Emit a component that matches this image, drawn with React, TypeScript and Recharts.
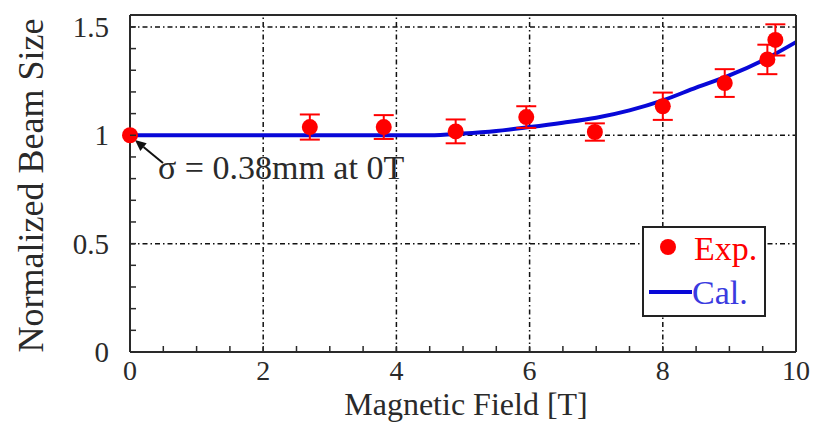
import {
  ComposedChart,
  ErrorBar,
  Legend,
  Line,
  ReferenceLine,
  Scatter,
  XAxis,
  YAxis,
} from "recharts";

// measured points
const expField = [0, 2.7, 3.81, 4.89, 5.95, 6.98, 8.0, 8.93, 9.57, 9.69];
const expSize = [1, 1.038, 1.038, 1.018, 1.084, 1.015, 1.134, 1.241, 1.35, 1.44];
const expErr = [0, 0.058, 0.055, 0.055, 0.05, 0.04, 0.063, 0.064, 0.068, 0.072];

// calculation
const calField = [0, 1, 2, 3, 4, 4.5, 5, 5.5, 6, 6.5, 7, 7.5, 8, 8.5, 9, 9.5, 10];
const calSize = [1, 1, 1, 1, 1, 1, 1.008, 1.02, 1.038, 1.058, 1.081, 1.115, 1.161, 1.22, 1.276, 1.345, 1.43];

const xTicks = [0, 0.5, 1, 1.5, 2, 2.5, 3, 3.5, 4, 4.5, 5, 5.5, 6, 6.5, 7, 7.5, 8, 8.5, 9, 9.5, 10];
const xLabelTicks = [0, 2, 4, 6, 8, 10];
const yTicks = [0, 0.1, 0.2, 0.3, 0.4, 0.5, 0.6, 0.7, 0.8, 0.9, 1, 1.1, 1.2, 1.3, 1.4, 1.5];
const yLabelTicks = [0, 0.5, 1, 1.5];
const xGrid = [2, 4, 6, 8];
const yGrid = [0.5, 1, 1.5];

const arrowFrom = { x: 0.495, y: 0.872 };
const arrowTo = { x: 0.075, y: 0.978 };
const noteText = "σ = 0.38mm at 0T";

const expData = expField.map((x, i) => ({ x, y: expSize[i], err: expErr[i] }));
const calData = calField.map((x, i) => ({ x, y: calSize[i] }));

const FONT = "Liberation Serif, Times New Roman, serif";
const INK = "#2a2a2a";
const RED = "#ff0000";
const BLUE = "#0808d8";
const GRID_DASH = "5 3 1.5 3";

function BottomTick({ x, y, payload }: any) {
  const v = payload.value;
  return (
    <g>
      <line x1={x} y1={y} x2={x} y2={y - 6} stroke={INK} strokeWidth={1.5} />
      {xLabelTicks.includes(v) ? (
        <text x={x} y={y + 28} textAnchor="middle" fontSize={28} fontFamily={FONT} fill={INK}>
          {v}
        </text>
      ) : null}
    </g>
  );
}

function TopTick({ x, y }: any) {
  return <line x1={x} y1={y} x2={x} y2={y + 6} stroke={INK} strokeWidth={1.5} />;
}

function LeftTick({ x, y, payload }: any) {
  const v = Math.round(payload.value * 10) / 10;
  return (
    <g>
      <line x1={x} y1={y} x2={x + 6} y2={y} stroke={INK} strokeWidth={1.5} />
      {yLabelTicks.includes(v) ? (
        <text x={x - 21} y={y + 10} textAnchor="end" fontSize={29} fontFamily={FONT} fill={INK}>
          {v}
        </text>
      ) : null}
    </g>
  );
}

function RightTick({ x, y }: any) {
  return <line x1={x} y1={y} x2={x - 6} y2={y} stroke={INK} strokeWidth={1.5} />;
}

function Arrow(props: any) {
  const { x1, y1, x2, y2 } = props;
  const ang = Math.atan2(y2 - y1, x2 - x1);
  const len = 11;
  const w = 5;
  const bx = x2 - len * Math.cos(ang);
  const by = y2 - len * Math.sin(ang);
  const px = -Math.sin(ang) * w;
  const py = Math.cos(ang) * w;
  return (
    <g>
      <line x1={x1} y1={y1} x2={bx} y2={by} stroke="#111" strokeWidth={2} />
      <polygon points={`${x2},${y2} ${bx + px},${by + py} ${bx - px},${by - py}`} fill="#111" />
      <text x={x1 - 5} y={y1 + 16} fontSize={34} fontFamily={FONT} fill={INK}>
        {noteText}
      </text>
    </g>
  );
}

function LegendBox() {
  return (
    <div
      style={{
        width: 124,
        height: 91,
        border: "2px solid #222",
        background: "#fff",
        boxSizing: "border-box",
        position: "relative",
      }}
    >
      <svg width={124} height={91} style={{ position: "absolute", left: -2, top: -2 }}>
        <circle cx={26} cy={21} r={8} fill={RED} />
        <text x={52} y={34} fill={RED} fontSize={34} fontFamily={FONT}>
          Exp.
        </text>
        <line x1={7} y1={66} x2={50} y2={66} stroke={BLUE} strokeWidth={4} />
        <text x={50} y={78} fill="#3a3ae0" fontSize={34} fontFamily={FONT}>
          Cal.
        </text>
      </svg>
    </div>
  );
}

function YTitle(props: any) {
  const vb = props.viewBox;
  const cx = 31;
  const cy = vb.y + vb.height / 2 + 2;
  return (
    <text
      x={cx}
      y={cy}
      transform={`rotate(-90, ${cx}, ${cy})`}
      textAnchor="middle"
      dominantBaseline="central"
      fontSize={36}
      fontFamily={FONT}
      fill={INK}
    >
      Normalized Beam Size
    </text>
  );
}

function XTitle(props: any) {
  const vb = props.viewBox;
  return (
    <text x={vb.x + vb.width / 2 + 3} y={415} textAnchor="middle" fontSize={32} fontFamily={FONT} fill={INK}>
      Magnetic Field [T]
    </text>
  );
}

export default function App() {
  return (
    <div style={{ position: "absolute", left: 0, top: 0, background: "#fff" }}>
      <ComposedChart width={826} height={423} margin={{ top: 5, right: 20, bottom: 0, left: 0 }}>
        <XAxis
          type="number"
          dataKey="x"
          domain={[0, 10]}
          ticks={xTicks}
          interval={0}
          tickSize={0}
          tickMargin={0}
          height={71}
          stroke={INK}
          strokeWidth={2}
          tick={BottomTick}
          label={XTitle}
        />
        <XAxis
          xAxisId="top"
          orientation="top"
          type="number"
          domain={[0, 10]}
          ticks={xTicks}
          interval={0}
          tickSize={0}
          tickMargin={0}
          height={10}
          stroke={INK}
          strokeWidth={2}
          tick={TopTick}
        />
        <YAxis
          type="number"
          domain={[0, 1.555]}
          ticks={yTicks}
          interval={0}
          tickSize={0}
          tickMargin={0}
          width={130}
          stroke={INK}
          strokeWidth={2}
          tick={LeftTick}
          label={YTitle}
        />
        <YAxis
          yAxisId="right"
          orientation="right"
          type="number"
          domain={[0, 1.555]}
          ticks={yTicks}
          interval={0}
          tickSize={0}
          tickMargin={0}
          width={10}
          stroke={INK}
          strokeWidth={2}
          tick={RightTick}
        />
        {xGrid.map((v) => (
          <ReferenceLine key={`gx${v}`} x={v} stroke="#111" strokeWidth={1.5} strokeDasharray={GRID_DASH} />
        ))}
        {yGrid.map((v) => (
          <ReferenceLine key={`gy${v}`} y={v} stroke="#111" strokeWidth={1.5} strokeDasharray={GRID_DASH} />
        ))}
        <Line
          data={calData}
          dataKey="y"
          name="Cal."
          type="monotone"
          stroke={BLUE}
          strokeWidth={4}
          dot={false}
          isAnimationActive={false}
        />
        <Scatter
          data={expData}
          dataKey="y"
          name="Exp."
          fill={RED}
          isAnimationActive={false}
          shape={(p: any) => <circle cx={p.cx} cy={p.cy} r={8} fill={RED} />}
        >
          <ErrorBar dataKey="err" direction="y" width={10} stroke={RED} strokeWidth={2} isAnimationActive={false} />
        </Scatter>
        <ReferenceLine segment={[arrowFrom, arrowTo]} ifOverflow="visible" shape={Arrow} />
        <Legend
          layout="horizontal"
          verticalAlign="middle"
          align="center"
          content={LegendBox}
          wrapperStyle={{ left: 642, top: 226, width: 124, height: 91 }}
        />
      </ComposedChart>
    </div>
  );
}
